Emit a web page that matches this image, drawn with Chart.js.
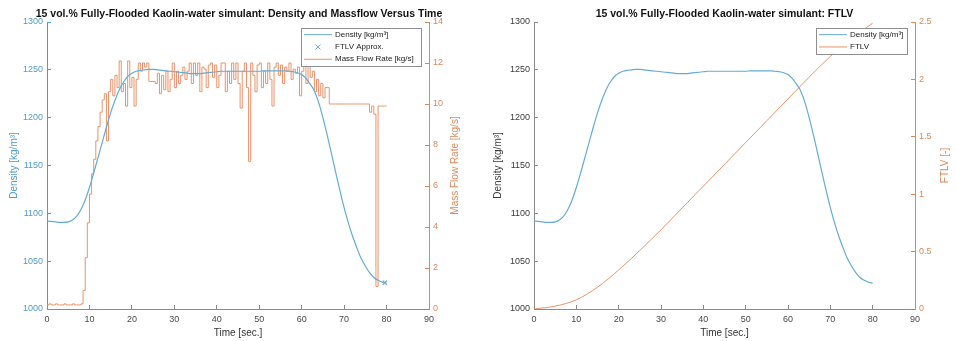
<!DOCTYPE html>
<html>
<head>
<meta charset="utf-8">
<script src="https://cdn.jsdelivr.net/npm/chart.js@4"></script>
<style>
  html, body { margin: 0; padding: 0; background: #fff; }
  #wrap { position: relative; width: 956px; height: 341px; }
  .pane { position: absolute; top: 0; width: 478px; height: 341px; }
</style>
</head>
<body>
<div id="wrap">
  <div class="pane" style="left:0"><canvas id="flowChart" width="478" height="341"></canvas></div>
  <div class="pane" style="left:478px"><canvas id="ftlvChart" width="478" height="341"></canvas></div>
</div>
<script>
// time axis [s]
const densityTime = [0,1,2,3,4,5,6,7,8,9,10,11,12,13,14,15,16,17,18,19,20,
  21,22,23,24,25,26,27,28,29,30,31,32,33,34,35,36,37,38,39,40,
  41,42,43,44,45,46,47,48,49,50,51,52,53,54,55,56,57,58,59,60,
  61,62,63,64,65,66,67,68,69,70,71,72,73,74,75,76,77,78,79,80];

// density [kg/m3]
const densityValues = [1092,1091.5,1091,1090.5,1090.5,1091,1093,1097,1104,1114,1127,
  1142,1158,1174,1190,1205,1218,1229,1237,1243,1246.5,
  1248.5,1249.5,1250,1250.5,1250.5,1250,1249.5,1249,1248.5,1248,
  1247.5,1247,1246.5,1246,1246,1246,1246.5,1247,1247.5,1248,
  1248.5,1248.5,1248.5,1248.5,1248.5,1248.5,1248.5,1248.5,1248.5,1248.5,
  1249,1249,1249,1249,1249,1249,1248.5,1248,1247,1245,
  1241,1235,1228,1216,1200,1182,1163,1143,1124,1106,
  1090,1076,1064,1053,1045,1038,1033,1030,1028,1027];

// FTLV approx. marker
const ftlvApproxTime = [79.6];
const ftlvApproxDensity = [1027.5];

// mass flow rate [kg/s], sampled every 0.5 s from t = 0
const massFlowStep = 0.5;
const massFlowValues = [
  0.2,0.2,0.25,0.2,0.2,0.25,0.2,0.2,0.2,0.25,
  0.2,0.2,0.2,0.25,0.2,0.2,0.2,0.25,0.9,2.5,
  4.2,5.6,6.6,7.3,8.2,8.9,9.6,10.2,10.5,8.2,
  10.6,11.2,10.4,11.4,10.8,12.1,10.6,11.0,9.9,12.1,
  10.8,11.3,9.9,11.2,12.0,11.6,12.0,11.8,12.0,11.1,
  11.1,11.1,11.0,11.5,10.5,11.4,10.7,11.6,10.6,11.2,
  12.0,10.8,11.6,11.0,11.4,11.8,11.2,11.6,12.0,11.0,
  12.0,11.4,12.0,10.6,11.8,11.7,10.8,11.9,12.0,11.3,
  11.9,10.8,11.4,12.0,12.0,10.6,11.6,11.0,12.0,11.2,
  12.0,11.0,9.8,11.6,12.0,10.8,7.2,12.0,11.4,10.6,
  11.9,12.0,10.8,11.6,11.0,12.0,11.2,9.9,11.8,12.0,
  11.4,11.9,11.0,11.8,11.6,12.0,11.2,11.7,11.5,11.8,
  10.4,11.6,11.9,11.0,12.0,11.3,11.6,10.6,11.2,10.4,
  11.0,10.3,10.8,10.8,10.0,10.0,10.0,10.0,10.0,10.0,
  10.0,10.0,10.0,10.0,10.0,10.0,10.0,10.0,10.0,10.0,
  10.0,10.0,10.0,9.6,9.9,9.5,1.1,9.9,9.9,9.9,
  9.9];

// FTLV [-]
const ftlvTime = [0,5,10,15,20,25,30,35,40,45,50,55,60,65,70,75,80];
const ftlvValues = [0,0.025,0.08,0.19,0.34,0.51,0.69,0.88,1.07,1.26,1.45,1.64,1.83,2.02,2.2,2.36,2.49];

const FONT = '"Liberation Sans", Arial, Helvetica, sans-serif';
Chart.defaults.font.family = FONT;

const blueText = '#4f9cc8';
const blueLine = '#66abd1';
const orangeText = '#d9895c';
const orangeLine = '#e8946a';
const greyAxis = '#8a8a8a';
const darkText = '#3a3a3a';

const pts = (xs, ys) => xs.map((x, i) => ({ x: x, y: ys[i] }));

// MATLAB-like boxed legend in the top right corner of the plot
const boxLegend = {
  id: 'boxLegend',
  afterDraw(chart, args, opts) {
    const ctx = chart.ctx, a = chart.chartArea;
    const items = chart.data.datasets;
    const rowH = 12.3;
    const w = opts.width;
    const h = items.length * rowH + 1;
    const right = a.right - 8, top = a.top + 6;
    const left = right - w;
    ctx.save();
    ctx.fillStyle = '#fff';
    ctx.fillRect(left, top, w, h);
    ctx.strokeStyle = '#8f8f8f';
    ctx.lineWidth = 1;
    ctx.strokeRect(Math.round(left) + 0.5, Math.round(top) + 0.5, Math.round(w), Math.round(h));
    ctx.font = '8px ' + FONT;
    ctx.textBaseline = 'middle';
    items.forEach((d, i) => {
      const y = top + rowH * (i + 0.5) + 0.5;
      ctx.strokeStyle = d.borderColor;
      ctx.lineWidth = 1;
      ctx.beginPath();
      if (d.showLine === false) {
        const cx = left + 17;
        ctx.moveTo(cx - 2.5, y - 2.5); ctx.lineTo(cx + 2.5, y + 2.5);
        ctx.moveTo(cx - 2.5, y + 2.5); ctx.lineTo(cx + 2.5, y - 2.5);
      } else {
        ctx.moveTo(left + 3, y); ctx.lineTo(left + 31, y);
      }
      ctx.stroke();
      ctx.fillStyle = '#222';
      ctx.fillText(d.label, left + 34, y);
    });
    ctx.restore();
  }
};

// right-hand axis title, reading bottom to top like MATLAB
const sideTitle = {
  id: 'sideTitle',
  afterDraw(chart, args, opts) {
    const s = chart.scales.yR, a = chart.chartArea;
    const t = s.options.title;
    const ctx = chart.ctx;
    ctx.save();
    ctx.translate(s.right - opts.offset, (a.top + a.bottom) / 2);
    ctx.rotate(-Math.PI / 2);
    ctx.font = '10px ' + FONT;
    ctx.fillStyle = t.color;
    ctx.textAlign = 'center';
    ctx.textBaseline = 'middle';
    ctx.fillText(t.text, 0, 0);
    ctx.restore();
  }
};

function xAxis() {
  return {
    type: 'linear', min: 0, max: 90,
    ticks: { stepSize: 10, color: '#4a4a4a', font: { size: 9 }, padding: 9, autoSkip: false, maxRotation: 0 },
    grid: { drawOnChartArea: false, color: greyAxis, tickLength: -4 },
    border: { color: greyAxis },
    title: { display: true, text: 'Time [sec.]', color: '#333', font: { size: 10 }, padding: { top: 0, bottom: 2 } },
    afterFit(s) { s.height = 32; }
  };
}

function yLeft(color, tickColor, width, titlePad) {
  return {
    position: 'left', min: 1000, max: 1300,
    ticks: { stepSize: 50, color: tickColor, font: { size: 9 }, padding: 8, autoSkip: false, callback: v => String(v) },
    grid: { drawOnChartArea: false, color: color, tickLength: -4 },
    border: { color: color },
    title: { display: true, text: 'Density [kg/m³]', color: tickColor, font: { size: 10 }, padding: { top: titlePad, bottom: 0 } },
    afterFit(s) { s.width = width; }
  };
}

function yRight(max, step, text, width) {
  return {
    position: 'right', min: 0, max: max,
    ticks: { stepSize: step, color: orangeText, font: { size: 9 }, padding: 8, autoSkip: false, callback: v => String(v) },
    grid: { drawOnChartArea: false, color: orangeText, tickLength: -4 },
    border: { color: orangeText },
    title: { display: false, text: text, color: orangeText },
    afterFit(s) { s.width = width; }
  };
}

function titleOpts(text, fullSize) {
  return {
    display: true, text: text, fullSize: fullSize, color: '#111',
    font: { size: 10.5, weight: 'bold' }, padding: { top: 8, bottom: 1.4 }
  };
}

new Chart(document.getElementById('flowChart'), {
  type: 'line',
  data: {
    datasets: [
      { label: 'Density [kg/m³]', data: pts(densityTime, densityValues), yAxisID: 'y',
        borderColor: blueLine, borderWidth: 1.2, pointRadius: 0, cubicInterpolationMode: 'monotone' },
      { label: 'FTLV Approx.', data: pts(ftlvApproxTime, ftlvApproxDensity), yAxisID: 'y', showLine: false,
        borderColor: blueLine, backgroundColor: blueLine, pointStyle: 'crossRot', pointRadius: 3, borderWidth: 1.2 },
      { label: 'Mass Flow Rate [kg/s]', data: massFlowValues.map((v, i) => ({ x: i * massFlowStep, y: v })), yAxisID: 'yR',
        borderColor: orangeLine, borderWidth: 1, pointRadius: 0, stepped: 'after' }
    ]
  },
  options: {
    responsive: false, animation: false,
    layout: { padding: 0 },
    plugins: {
      legend: { display: false }, tooltip: { enabled: false },
      title: titleOpts('15 vol.% Fully-Flooded Kaolin-water simulant: Density and Massflow Versus Time', true),
      boxLegend: { width: 120 },
      sideTitle: { offset: 23 }
    },
    scales: {
      x: xAxis(),
      y: yLeft(blueText, blueText, 47, 8),
      yR: yRight(14, 2, 'Mass Flow Rate [kg/s]', 49)
    }
  },
  plugins: [boxLegend, sideTitle]
});

new Chart(document.getElementById('ftlvChart'), {
  type: 'line',
  data: {
    datasets: [
      { label: 'Density [kg/m³]', data: pts(densityTime, densityValues), yAxisID: 'y',
        borderColor: blueLine, borderWidth: 1.2, pointRadius: 0, cubicInterpolationMode: 'monotone' },
      { label: 'FTLV', data: pts(ftlvTime, ftlvValues), yAxisID: 'yR',
        borderColor: orangeLine, borderWidth: 1, pointRadius: 0, cubicInterpolationMode: 'monotone' }
    ]
  },
  options: {
    responsive: false, animation: false,
    layout: { padding: 0 },
    plugins: {
      legend: { display: false }, tooltip: { enabled: false },
      title: titleOpts('15 vol.% Fully-Flooded Kaolin-water simulant: FTLV', false),
      boxLegend: { width: 91 },
      sideTitle: { offset: 11 }
    },
    scales: {
      x: xAxis(),
      y: yLeft(greyAxis, darkText, 56, 14),
      yR: yRight(2.5, 0.5, 'FTLV [-]', 41)
    }
  },
  plugins: [boxLegend, sideTitle]
});
</script>
</body>
</html>
